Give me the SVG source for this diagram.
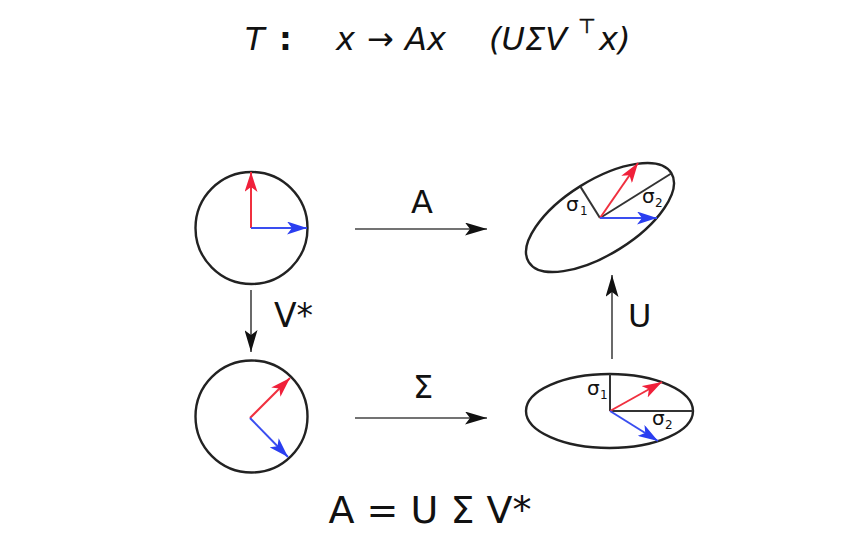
<svg xmlns="http://www.w3.org/2000/svg" width="852" height="543" viewBox="0 0 852 543">
<style>
.shape{fill:none;stroke:#222;stroke-width:2.4}
.axis{stroke:#333;stroke-width:2}
.conn{stroke:#444;stroke-width:1.6;fill:none}
.red{stroke:#f0303f;stroke-width:2;fill:none}
.blue{stroke:#3a4ef0;stroke-width:2;fill:none}
.lbl{font-family:"DejaVu Sans",sans-serif;fill:#111}
.ttl{font-family:"DejaVu Sans",sans-serif;font-style:oblique;font-size:32px;fill:#111}
.up{font-family:"DejaVu Sans",sans-serif;font-size:32px;fill:#111}
.sig{font-family:"DejaVu Sans",sans-serif;font-size:20px;fill:#111}
.sub{font-family:"DejaVu Sans",sans-serif;font-size:12px;fill:#111}
</style>
<defs>
<marker id="ab" viewBox="0 0 22 13" refX="22" refY="6.5" markerWidth="22" markerHeight="13" markerUnits="userSpaceOnUse" orient="auto">
<path d="M0,0 L22,6.5 L0,13 L5,6.5 Z" fill="#111"/>
</marker>
<marker id="ar" viewBox="0 0 20 13" refX="20" refY="6.5" markerWidth="20" markerHeight="13" markerUnits="userSpaceOnUse" orient="auto">
<path d="M0,0 L20,6.5 L0,13 L5,6.5 Z" fill="#f0203a"/>
</marker>
<marker id="abl" viewBox="0 0 20 13" refX="20" refY="6.5" markerWidth="20" markerHeight="13" markerUnits="userSpaceOnUse" orient="auto">
<path d="M0,0 L20,6.5 L0,13 L5,6.5 Z" fill="#2a3ef0"/>
</marker>
</defs>

<g id="title">
<text class="ttl" x="245" y="50">T</text>
<text class="up" x="279" y="50" style="font-weight:bold">:</text>
<text class="ttl" x="336" y="50">x</text>
<text class="up" x="367" y="50">→</text>
<text class="ttl" x="405" y="50">Ax</text>
<text class="ttl" x="489" y="50">(UΣV</text>
<text class="up" x="578" y="33" style="font-size:20px;stroke:#111;stroke-width:0.6">⊤</text>
<text class="ttl" x="599" y="50">x)</text>
</g>

<g id="circle-top">
<circle class="shape" cx="251.5" cy="228" r="56"/>
<line class="red" x1="251" y1="228" x2="251" y2="172" marker-end="url(#ar)"/>
<line class="blue" x1="251" y1="228" x2="307" y2="228" marker-end="url(#abl)"/>
</g>

<g id="circle-bottom">
<circle class="shape" cx="251.5" cy="416.5" r="56"/>
<line class="red" x1="250" y1="418" x2="290" y2="378" marker-end="url(#ar)"/>
<line class="blue" x1="250" y1="418" x2="288" y2="457" marker-end="url(#abl)"/>
</g>

<g id="ellipse-top">
<ellipse class="shape" cx="600" cy="217.5" rx="84" ry="37" transform="rotate(-32 600 217.5)"/>
<line class="axis" x1="600" y1="218" x2="580.4" y2="186.6"/>
<line class="axis" x1="600" y1="218" x2="671.2" y2="173.5"/>
<line class="red" x1="600" y1="218" x2="638" y2="163" marker-end="url(#ar)"/>
<line class="blue" x1="600" y1="218" x2="657" y2="218" marker-end="url(#abl)"/>
<text class="sig" x="566" y="211">σ</text><text class="sub" x="580" y="215">1</text>
<text class="sig" x="642" y="203">σ</text><text class="sub" x="655" y="207">2</text>
</g>

<g id="ellipse-bottom">
<ellipse class="shape" cx="609.5" cy="411" rx="83.5" ry="37"/>
<line class="axis" x1="610" y1="411" x2="610" y2="374"/>
<line class="axis" x1="610" y1="411" x2="693" y2="411"/>
<line class="red" x1="610" y1="411" x2="662" y2="382" marker-end="url(#ar)"/>
<line class="blue" x1="610" y1="411" x2="658" y2="441" marker-end="url(#abl)"/>
<text class="sig" x="587" y="395">σ</text><text class="sub" x="600" y="399">1</text>
<text class="sig" x="652" y="425">σ</text><text class="sub" x="665" y="429">2</text>
</g>

<g id="connectors">
<line class="conn" x1="355" y1="229" x2="487" y2="229" marker-end="url(#ab)"/>
<line class="conn" x1="355" y1="418" x2="487" y2="418" marker-end="url(#ab)"/>
<line class="conn" x1="251" y1="290" x2="251" y2="352" marker-end="url(#ab)"/>
<line class="conn" x1="612" y1="359" x2="612" y2="275" marker-end="url(#ab)"/>
<text class="lbl" x="422" y="213" font-size="32" text-anchor="middle">A</text>
<text class="lbl" x="423" y="398" font-size="32" text-anchor="middle">Σ</text>
<text class="lbl" x="274" y="327" font-size="33">V*</text>
<text class="lbl" x="628" y="327" font-size="32">U</text>
</g>

<g id="formula">
<text class="lbl" x="430" y="523" font-size="38" text-anchor="middle">A = U Σ V*</text>
</g>
</svg>
